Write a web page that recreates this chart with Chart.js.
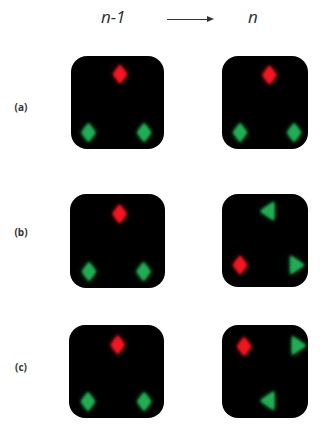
<!DOCTYPE html>
<html>
<head>
<meta charset="utf-8">
<script src="https://cdn.jsdelivr.net/npm/chart.js@4/dist/chart.umd.min.js"></script>
<style>
  html, body { margin: 0; padding: 0; background: #fff; }
  body { width: 322px; height: 432px; position: relative; overflow: hidden; }
  .step { position: absolute; top: 5px; font: italic 17px "Open Sans", sans-serif; color: #2e2e2e; }
  .row { position: absolute; left: 8px; width: 26px; text-align: center; font: bold 10px "Open Sans", sans-serif; color: #333; }
  .arrow { position: absolute; left: 167px; top: 19px; width: 40px; height: 0; border-top: 1.4px solid #333; }
  .arrow::after { content: ""; position: absolute; right: -7px; top: -4px; border-left: 7px solid #333; border-top: 3.3px solid transparent; border-bottom: 3.3px solid transparent; }
  canvas { position: absolute; }
</style>
</head>
<body>
<div class="step" id="stepPrev" style="left:101px">n-1</div>
<div class="arrow"></div>
<div class="step" id="stepNext" style="left:248px">n</div>
<div class="row" style="top:100px">(a)</div>
<div class="row" style="top:225px">(b)</div>
<div class="row" style="top:360px">(c)</div>
<canvas id="aPrev" width="113" height="113" style="left:61px;top:46px"></canvas>
<canvas id="aNext" width="106" height="113" style="left:212px;top:46px"></canvas>
<canvas id="bPrev" width="115" height="114" style="left:60px;top:184px"></canvas>
<canvas id="bNext" width="106" height="113" style="left:212px;top:184px"></canvas>
<canvas id="cPrev" width="115" height="113" style="left:59px;top:315px"></canvas>
<canvas id="cNext" width="106" height="113" style="left:212px;top:315px"></canvas>
<script>
// Marker positions inside each panel, on a 0–100 grid (y grows upward).
// Each point carries the marker shape: 'diamond', 'left' or 'right'.
const aPrevRed   = [{x: 52.7, y: 80.5, s: 'diamond'}];
const aPrevGreen = [{x: 18.8, y: 17.7, s: 'diamond'}, {x: 78.6, y: 17.7, s: 'diamond'}];
const aNextRed   = [{x: 55.2, y: 79.6, s: 'diamond'}];
const aNextGreen = [{x: 21.0, y: 17.7, s: 'diamond'}, {x: 83.8, y: 17.7, s: 'diamond'}];

const bPrevRed   = [{x: 52.2, y: 78.9, s: 'diamond'}];
const bPrevGreen = [{x: 20.0, y: 17.5, s: 'diamond'}, {x: 77.4, y: 17.5, s: 'diamond'}];
const bNextRed   = [{x: 21.0, y: 23.7, s: 'diamond'}];
const bNextGreen = [{x: 52.4, y: 81.6, s: 'left'}, {x: 87.6, y: 23.7, s: 'right'}];

const cPrevRed   = [{x: 51.3, y: 78.8, s: 'diamond'}];
const cPrevGreen = [{x: 20.0, y: 17.7, s: 'diamond'}, {x: 79.1, y: 17.7, s: 'diamond'}];
const cNextRed   = [{x: 25.7, y: 77.0, s: 'diamond'}];
const cNextGreen = [{x: 89.5, y: 77.9, s: 'right'}, {x: 52.4, y: 18.6, s: 'left'}];

const RED = 'rgb(240, 22, 34)';
const GREEN = 'rgb(34, 172, 84)';

// Soft, slightly glowing marker sprites used as point styles.
function sprite(shape, color) {
  const c = document.createElement('canvas');
  c.width = 24; c.height = 30;
  const g = c.getContext('2d');
  g.filter = 'blur(1px)';
  g.shadowColor = color;
  g.shadowBlur = 4;
  g.fillStyle = color;
  g.beginPath();
  const cx = 12, cy = 15, hw = 7, hh = 9.5;
  if (shape === 'diamond') {
    g.moveTo(cx, cy - hh); g.lineTo(cx + hw, cy); g.lineTo(cx, cy + hh); g.lineTo(cx - hw, cy);
  } else if (shape === 'left') {
    g.moveTo(cx - hw, cy); g.lineTo(cx + hw, cy - hh); g.lineTo(cx + hw, cy + hh);
  } else {
    g.moveTo(cx + hw, cy); g.lineTo(cx - hw, cy - hh); g.lineTo(cx - hw, cy + hh);
  }
  g.closePath();
  g.fill();
  return c;
}
const sprites = {};
['diamond', 'left', 'right'].forEach(s => {
  sprites[s + RED] = sprite(s, RED);
  sprites[s + GREEN] = sprite(s, GREEN);
});

// Black rounded panel behind the plot area.
const panelBackground = {
  id: 'panelBackground',
  beforeDraw(chart) {
    const a = chart.chartArea, ctx = chart.ctx;
    ctx.save();
    ctx.fillStyle = '#000';
    ctx.beginPath();
    ctx.roundRect(a.left, a.top, a.right - a.left, a.bottom - a.top, 16);
    ctx.fill();
    ctx.restore();
  }
};

function series(points, color) {
  return {
    data: points,
    showLine: false,
    pointStyle: points.map(p => sprites[p.s + color]),
    pointRadius: 9,
    pointHoverRadius: 9,
    clip: false
  };
}

function panel(id, red, green) {
  new Chart(document.getElementById(id), {
    type: 'scatter',
    data: { datasets: [series(green, GREEN), series(red, RED)] },
    options: {
      responsive: false,
      animation: false,
      events: [],
      layout: { padding: 0 },
      plugins: { legend: { display: false }, tooltip: { enabled: false } },
      scales: {
        x: { type: 'linear', min: 0, max: 100, display: false },
        y: { type: 'linear', min: 0, max: 100, display: false }
      }
    },
    plugins: [panelBackground]
  });
}

panel('aPrev', aPrevRed, aPrevGreen);
panel('aNext', aNextRed, aNextGreen);
panel('bPrev', bPrevRed, bPrevGreen);
panel('bNext', bNextRed, bNextGreen);
panel('cPrev', cPrevRed, cPrevGreen);
panel('cNext', cNextRed, cNextGreen);
</script>
</body>
</html>
